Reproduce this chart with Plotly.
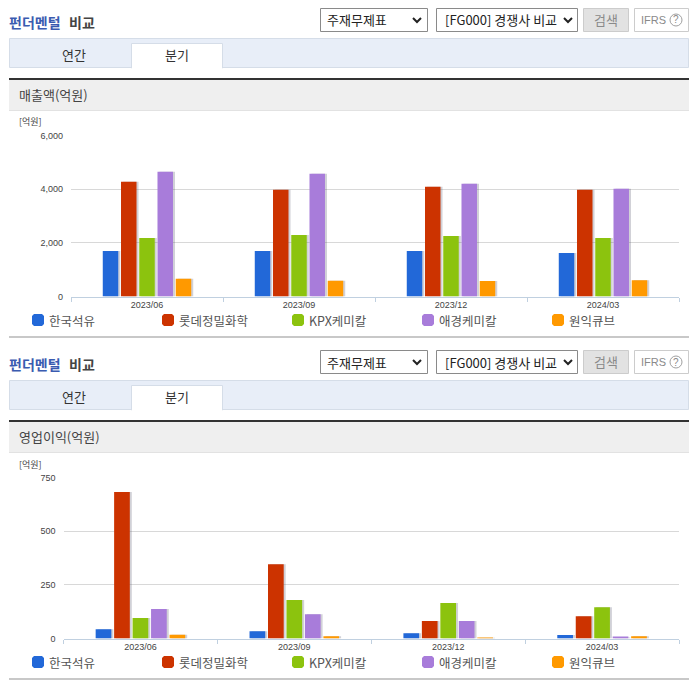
import plotly.graph_objects as go

# 데이터
periods = ["2023/06", "2023/09", "2023/12", "2024/03"]
companies = ["한국석유", "롯데정밀화학", "KPX케미칼", "애경케미칼", "원익큐브"]
colors = ["#2268D8", "#CC3300", "#8CC30E", "#A87CDA", "#FF9900"]

sales_korea = [1700, 1700, 1700, 1620]
sales_lotte = [4280, 3975, 4087, 3975]
sales_kpx = [2180, 2293, 2255, 2180]
sales_aekyung = [4648, 4573, 4200, 4012]
sales_wonik = [660, 585, 573, 610]

profit_korea = [43, 34, 25, 16]
profit_lotte = [682, 346, 81, 104]
profit_kpx = [95, 179, 165, 146]
profit_aekyung = [137, 113, 81, 5]
profit_wonik = [17, 11, 3, 11]

sales = [sales_korea, sales_lotte, sales_kpx, sales_aekyung, sales_wonik]
profit = [profit_korea, profit_lotte, profit_kpx, profit_aekyung, profit_wonik]

W, H = 696, 684
KR = "Noto Sans CJK KR"
SECTION_DY = 342


def px(x):
    return x / W


def py(y):
    return 1 - y / H


shapes = []
annotations = []


def box(x0, y0, x1, y1, fill, line=None):
    shapes.append(dict(type="rect", xref="paper", yref="paper",
                       x0=px(x0), x1=px(x1), y0=py(y0), y1=py(y1),
                       fillcolor=fill, layer="below",
                       line=dict(color=line or fill, width=1 if line else 0)))


def label(x, y, text, size=12, color="#444444", anchor="left", font=KR):
    annotations.append(dict(x=px(x), y=py(y), xref="paper", yref="paper", text=text,
                            showarrow=False, xanchor=anchor, yanchor="middle",
                            borderpad=0, font=dict(family=font, size=size, color=color)))


def chevron(x, y):
    path = f"M{px(x - 4)},{py(y - 2)} L{px(x)},{py(y + 2)} L{px(x + 4)},{py(y - 2)}"
    shapes.append(dict(type="path", xref="paper", yref="paper", path=path,
                       line=dict(color="#222222", width=2)))


def swatch(x, y, color):
    # 둥근 사각형 범례
    s, r = 12, 2
    pts = [(x + r, y), (x + s - r, y), (x + s, y + r), (x + s, y + s - r),
           (x + s - r, y + s), (x + r, y + s), (x, y + s - r), (x, y + r)]
    path = "M" + " L".join(f"{px(a)},{py(b)}" for a, b in pts) + " Z"
    shapes.append(dict(type="path", xref="paper", yref="paper", path=path,
                       fillcolor=color, line=dict(width=0)))


def header(dy, name, unit_y):
    label(8, 22 + dy, "<b>펀더멘털</b>", 14, "#3A5BB0")
    label(68, 22 + dy, "<b>비교</b>", 14, "#444444")
    box(320.5, 8.5 + dy, 427.5, 31.5 + dy, "#FFFFFF", "#8A8A8A")
    label(326, 20 + dy, "주재무제표", 13, "#222222")
    chevron(417, 20 + dy)
    box(436.5, 8.5 + dy, 577.5, 31.5 + dy, "#FFFFFF", "#8A8A8A")
    label(444, 20 + dy, "[FG000] 경쟁사 비교", 13, "#222222")
    chevron(568, 20 + dy)
    box(583.5, 8.5 + dy, 628.5, 31.5 + dy, "#E2E2E2", "#CCCCCC")
    label(606, 19 + dy, "검색", 13, "#8A8A8A", "center")
    box(634.5, 8.5 + dy, 688.5, 31.5 + dy, "#FFFFFF", "#CCCCCC")
    label(640, 20 + dy, "IFRS", 11, "#8A8A8A", font="Liberation Sans")
    label(676, 20 + dy, "?", 10, "#8A8A8A", "center", "Liberation Sans")
    shapes.append(dict(type="circle", xref="paper", yref="paper",
                       x0=px(670), x1=px(682), y0=py(14 + dy), y1=py(26 + dy),
                       line=dict(color="#A0A0A0", width=1)))
    # 탭
    box(9.5, 38.5 + dy, 688.5, 67.5 + dy, "#E8EEF8", "#D5DDE8")
    box(131.5, 43.5 + dy, 222.5, 68 + dy, "#FFFFFF", "#D5DDE8")
    box(132, 66 + dy, 222, 69 + dy, "#FFFFFF")
    label(74, 54 + dy, "연간", 13, "#333333", "center")
    label(177, 55 + dy, "분기", 13, "#333333", "center")
    # 소제목
    box(9, 80 + dy, 689, 110 + dy, "#EFEFEF")
    box(9, 78 + dy, 689, 80 + dy, "#333333")
    box(9, 110 + dy, 689, 111 + dy, "#E2E2E2")
    label(18, 95 + dy, name, 13, "#444444")
    label(18, unit_y, "[억원]", 9, "#444444")
    box(9, 336 + dy, 689, 338 + dy, "#C8C8C8")
    # 범례
    for i, company in enumerate(companies):
        swatch(32 + 130 * i, 314 + dy, colors[i])
        label(48 + 130 * i, 320 + dy, company, 12.5, "#555555")


header(0, "매출액(억원)", 122)
header(SECTION_DY, "영업이익(억원)", 464)

fig = go.Figure()

BAR_W = 0.102
SLOT = 0.12
panels = [
    dict(values=sales, xa="x", ya="y", shadow=2 / 152),
    dict(values=profit, xa="x2", ya="y2", shadow=2 / 154),
]

for p in panels:
    for i, name in enumerate(companies):
        offset = -0.3 + i * SLOT + (SLOT - BAR_W) / 2
        # 그림자
        fig.add_trace(go.Bar(x=periods, y=p["values"][i], xaxis=p["xa"], yaxis=p["ya"],
                             width=BAR_W, offset=offset + p["shadow"],
                             marker=dict(color="rgba(90,90,110,0.28)", line=dict(width=0)),
                             hoverinfo="skip"))
        fig.add_trace(go.Bar(x=periods, y=p["values"][i], xaxis=p["xa"], yaxis=p["ya"],
                             width=BAR_W, offset=offset, name=name,
                             marker=dict(color=colors[i], line=dict(width=0))))

axis_x = dict(type="category", categoryorder="array", categoryarray=periods, range=[-0.5, 3.5],
              tickson="boundaries", ticks="outside", ticklen=4, tickcolor="#C0D0E0",
              showgrid=False, showline=True, linecolor="#C0D0E0", linewidth=1,
              tickfont=dict(family="Liberation Sans", size=9, color="#444444"))
axis_y = dict(showgrid=True, gridcolor="#D8D8D8", gridwidth=1, zeroline=False, showline=False,
              tickformat=",", ticks="", ticklabelstandoff=7,
              tickfont=dict(family="Liberation Sans", size=9, color="#444444"))

fig.update_layout(
    width=W, height=H, margin=dict(l=0, r=0, t=0, b=0, pad=0, autoexpand=False),
    autosize=False, showlegend=False,
    paper_bgcolor="white", plot_bgcolor="rgba(0,0,0,0)", barmode="overlay",
    xaxis=dict(axis_x, domain=[px(71), px(679)], anchor="y"),
    yaxis=dict(axis_y, domain=[py(296.5), py(135.5)], range=[0, 6000], dtick=2000, anchor="x"),
    xaxis2=dict(axis_x, domain=[px(63.5), px(679)], anchor="y2"),
    yaxis2=dict(axis_y, domain=[py(638.5), py(477.5)], range=[0, 750], dtick=250, anchor="x2"),
    shapes=shapes, annotations=annotations,
)

fig.write_html("out.html", config={"displayModeBar": False},
               post_script="document.body.style.margin='0';")
